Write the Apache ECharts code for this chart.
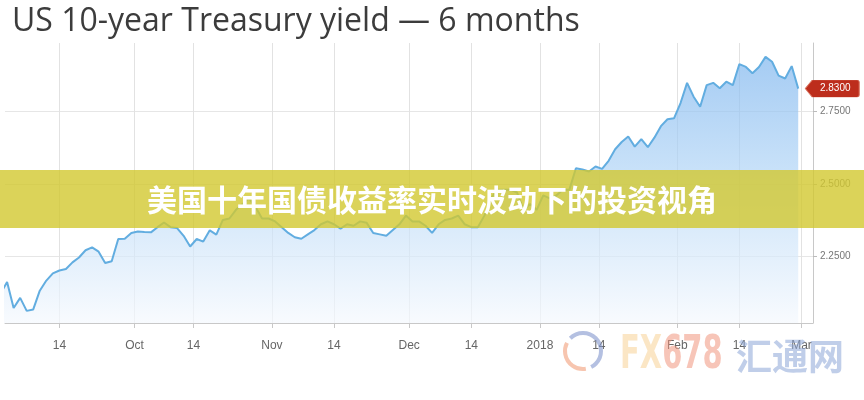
<!DOCTYPE html>
<html>
<head>
<meta charset="utf-8">
<script src="https://cdn.jsdelivr.net/npm/echarts@6/dist/echarts.min.js"></script>
<style>
html,body{margin:0;padding:0;background:#fff;}
#chart{width:864px;height:400px;}
</style>
</head>
<body>
<div id="chart"></div>
<script>
// Trading days shown on the chart (one category per session)
const dates = [
'2017-08-31','2017-09-01','2017-09-05','2017-09-06','2017-09-07','2017-09-08','2017-09-11','2017-09-12','2017-09-13','2017-09-14',
'2017-09-15','2017-09-18','2017-09-19','2017-09-20','2017-09-21','2017-09-22','2017-09-25','2017-09-26','2017-09-27','2017-09-28',
'2017-09-29','2017-10-02','2017-10-03','2017-10-04','2017-10-05','2017-10-06','2017-10-10','2017-10-11','2017-10-12','2017-10-13',
'2017-10-16','2017-10-17','2017-10-18','2017-10-19','2017-10-20','2017-10-23','2017-10-24','2017-10-25','2017-10-26','2017-10-27',
'2017-10-30','2017-10-31','2017-11-01','2017-11-02','2017-11-03','2017-11-06','2017-11-07','2017-11-08','2017-11-09','2017-11-10',
'2017-11-13','2017-11-14','2017-11-15','2017-11-16','2017-11-17','2017-11-20','2017-11-21','2017-11-22','2017-11-24','2017-11-27',
'2017-11-28','2017-11-29','2017-11-30','2017-12-01','2017-12-04','2017-12-05','2017-12-06','2017-12-07','2017-12-08','2017-12-11',
'2017-12-12','2017-12-13','2017-12-14','2017-12-15','2017-12-18','2017-12-19','2017-12-20','2017-12-21','2017-12-22','2017-12-26',
'2017-12-27','2017-12-28','2017-12-29','2018-01-02','2018-01-03','2018-01-04','2018-01-05','2018-01-08','2018-01-09','2018-01-10',
'2018-01-11','2018-01-12','2018-01-16','2018-01-17','2018-01-18','2018-01-19','2018-01-22','2018-01-23','2018-01-24','2018-01-25',
'2018-01-26','2018-01-29','2018-01-30','2018-01-31','2018-02-01','2018-02-02','2018-02-05','2018-02-06','2018-02-07','2018-02-08',
'2018-02-09','2018-02-12','2018-02-13','2018-02-14','2018-02-15','2018-02-16','2018-02-20','2018-02-21','2018-02-22','2018-02-23',
'2018-02-26','2018-02-27','2018-02-28'
];
// 10-year yield (%)
const yields = [
2.12,2.16,2.07,2.105,2.06,2.065,2.13,2.165,2.19,2.20,
2.205,2.228,2.245,2.27,2.28,2.265,2.226,2.232,2.309,2.31,
2.33,2.335,2.333,2.332,2.35,2.366,2.35,2.347,2.32,2.283,
2.309,2.30,2.339,2.324,2.375,2.38,2.41,2.43,2.45,2.42,
2.38,2.38,2.37,2.35,2.33,2.315,2.31,2.325,2.34,2.36,
2.37,2.36,2.345,2.36,2.355,2.37,2.365,2.33,2.325,2.32,
2.34,2.36,2.39,2.37,2.37,2.355,2.33,2.36,2.375,2.38,
2.39,2.36,2.35,2.35,2.39,2.45,2.48,2.48,2.48,2.47,
2.41,2.43,2.41,2.46,2.45,2.46,2.48,2.48,2.554,2.55,
2.543,2.56,2.552,2.58,2.62,2.645,2.664,2.629,2.655,2.627,
2.66,2.70,2.724,2.727,2.78,2.85,2.802,2.767,2.842,2.85,
2.831,2.854,2.842,2.915,2.905,2.883,2.905,2.94,2.923,2.875,
2.865,2.908,2.83
];
// x-axis ticks, in trading-session units (month ticks fall between sessions)
const xTickPos = [9, 20.5, 29.5, 41.5, 51, 62.5, 72, 82.5, 91.5, 103.5, 113, 122.5];
const xTickLabels = ['14','Oct','14','Nov','14','Dec','14','2018','14','Feb','14','Mar'];
const yTicks = [2.25, 2.5, 2.75];

const titleText = 'US 10-year Treasury yield \u2014 6 months';
const bannerText = '美国十年国债收益率实时波动下的投资视角';

const chart = echarts.init(document.getElementById('chart'), null, {renderer: 'canvas'});
const lastIdx = yields.length - 1;

const option = {
  animation: false,
  backgroundColor: '#ffffff',
  title: {
    text: titleText,
    left: 7,
    top: 1,
    textStyle: {fontFamily: 'Open Sans', fontSize: 32, fontWeight: 'normal', color: '#3c3c3c'}
  },
  grid: {left: 5, right: 51, top: 43, bottom: 77, containLabel: false},
  xAxis: {
    type: 'value',
    min: 0.68,
    max: 124.26,
    axisLine: {show: true, lineStyle: {color: '#c8c8c8', width: 1}},
    axisTick: {show: true, length: 5, customValues: xTickPos, lineStyle: {color: '#c8c8c8'}},
    axisLabel: {
      show: true, customValues: xTickPos, margin: 17,
      fontFamily: 'Liberation Sans', fontSize: 12, color: '#666',
      formatter: function (v) {
        const i = xTickPos.indexOf(v);
        return i >= 0 ? xTickLabels[i] : '';
      }
    },
    splitLine: {show: true, lineStyle: {color: '#e2e2e2', width: 1}}
  },
  yAxis: {
    type: 'value',
    position: 'right',
    min: 2.018,
    max: 2.988,
    axisLine: {show: true, lineStyle: {color: '#c8c8c8', width: 1}},
    axisTick: {show: true, length: 4, customValues: yTicks, lineStyle: {color: '#bbb'}},
    axisLabel: {
      show: true, customValues: yTicks, margin: 7,
      fontFamily: 'Liberation Sans', fontSize: 10, color: '#777',
      formatter: function (v) { return Number(v).toFixed(4); }
    },
    splitLine: {show: true, lineStyle: {color: '#e6e6e6', width: 1}}
  },
  series: [{
    type: 'line',
    data: yields.map(function (v, i) { return [i, v]; }),
    showSymbol: false,
    symbol: 'none',
    clip: true,
    lineStyle: {color: '#62ade0', width: 2},
    areaStyle: {
      color: new echarts.graphic.LinearGradient(0, 0, 0, 1, [
        {offset: 0, color: '#7fb6ee'},
        {offset: 0.42, color: '#b0d4f6'},
        {offset: 1, color: '#f5f9fe'}
      ])
    },
    markPoint: {
      silent: true,
      symbol: 'path://M0,8.5L7,0L52,0Q54,0 54,2L54,15Q54,17 52,17L7,17Z',
      symbolSize: [54, 17],
      symbolOffset: [34, 0],
      symbolKeepAspect: false,
      itemStyle: {color: '#bd2d1c', borderColor: '#d9745f', borderWidth: 0.6},
      label: {
        show: true, position: 'inside', offset: [3, 0],
        color: '#ffffff', fontFamily: 'Liberation Sans', fontSize: 10,
        formatter: function () { return yields[lastIdx].toFixed(4); }
      },
      data: [{coord: [lastIdx, yields[lastIdx]]}]
    }
  }],
  graphic: [
    {
      type: 'rect', z: 100,
      shape: {x: 0, y: 170, width: 864, height: 58},
      style: {fill: 'rgba(210,200,48,0.8)'}
    },
    {
      type: 'text', z: 101,
      x: 432, y: 200,
      style: {
        text: bannerText,
        fontFamily: 'Noto Sans CJK SC', fontWeight: 'bold', fontSize: 30,
        fill: '#ffffff', align: 'center', verticalAlign: 'middle',
        shadowColor: 'rgba(0,0,0,0.15)', shadowBlur: 2
      }
    },
    {
      type: 'arc', z: 1,
      shape: {cx: 583, cy: 351, r: 18, startAngle: -Math.PI * 0.75, endAngle: Math.PI * 0.35},
      style: {stroke: 'rgba(130,150,205,0.6)', lineWidth: 4, fill: null}
    },
    {
      type: 'arc', z: 1,
      shape: {cx: 583, cy: 351, r: 18, startAngle: Math.PI * 0.45, endAngle: Math.PI * 1.15},
      style: {stroke: 'rgba(240,150,110,0.55)', lineWidth: 4, fill: null}
    },
    {
      type: 'text', z: 1,
      x: 620, y: 356, scaleX: 0.7,
      style: {
        text: '{a|FX}{b|678}',
        verticalAlign: 'middle',
        rich: {
          a: {fontFamily: 'DejaVu Sans Condensed', fontWeight: 'bold', fontSize: 46, fill: 'rgba(248,210,150,0.55)'},
          b: {fontFamily: 'DejaVu Sans Condensed', fontWeight: 'bold', fontSize: 46, fill: 'rgba(240,150,125,0.55)'}
        }
      }
    },
    {
      type: 'text', z: 1,
      x: 736, y: 356,
      style: {
        text: '汇通网',
        fontFamily: 'Noto Sans CJK SC', fontWeight: 'bold', fontSize: 36,
        fill: 'rgba(140,165,215,0.55)', verticalAlign: 'middle'
      }
    }
  ]
};
chart.setOption(option);
</script>
</body>
</html>
